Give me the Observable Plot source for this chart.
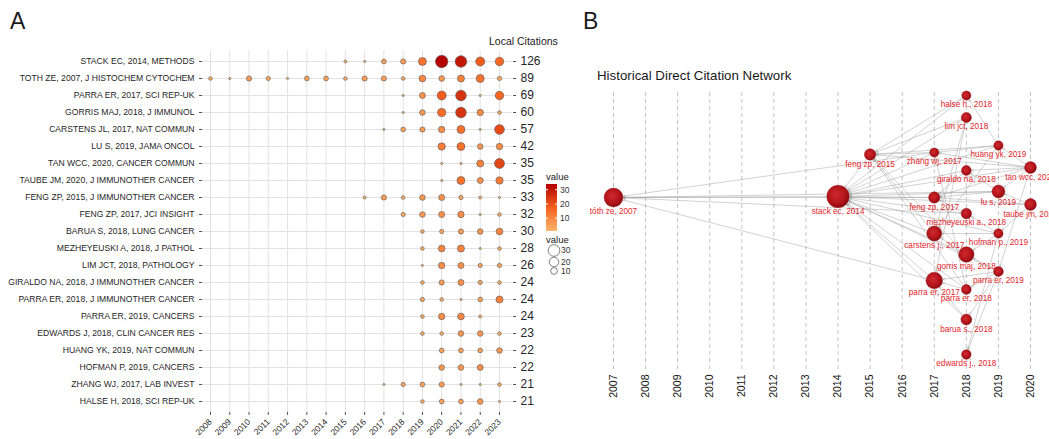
<!DOCTYPE html>
<html><head><meta charset="utf-8">
<script src="https://cdn.jsdelivr.net/npm/d3@7"></script>
<script src="https://cdn.jsdelivr.net/npm/@observablehq/plot@0.6"></script>
<style>
body{margin:0;background:#fff;font-family:"Liberation Sans",Arial,sans-serif;}
#wrap{position:relative;width:1049px;height:439px;overflow:hidden;background:#fff;}
#wrap > svg{position:absolute;top:0;}
</style></head><body><div id="wrap"></div>
<script>
// ---------- Panel A data ----------
const years = [2008,2009,2010,2011,2012,2013,2014,2015,2016,2017,2018,2019,2020,2021,2022,2023];
const refs = [
  "STACK EC, 2014, METHODS",
  "TOTH ZE, 2007, J HISTOCHEM CYTOCHEM",
  "PARRA ER, 2017, SCI REP-UK",
  "GORRIS MAJ, 2018, J IMMUNOL",
  "CARSTENS JL, 2017, NAT COMMUN",
  "LU S, 2019, JAMA ONCOL",
  "TAN WCC, 2020, CANCER COMMUN",
  "TAUBE JM, 2020, J IMMUNOTHER CANCER",
  "FENG ZP, 2015, J IMMUNOTHER CANCER",
  "FENG ZP, 2017, JCI INSIGHT",
  "BARUA S, 2018, LUNG CANCER",
  "MEZHEYEUSKI A, 2018, J PATHOL",
  "LIM JCT, 2018, PATHOLOGY",
  "GIRALDO NA, 2018, J IMMUNOTHER CANCER",
  "PARRA ER, 2018, J IMMUNOTHER CANCER",
  "PARRA ER, 2019, CANCERS",
  "EDWARDS J, 2018, CLIN CANCER RES",
  "HUANG YK, 2019, NAT COMMUN",
  "HOFMAN P, 2019, CANCERS",
  "ZHANG WJ, 2017, LAB INVEST",
  "HALSE H, 2018, SCI REP-UK"
];
const localCitations = [126,89,69,60,57,42,35,35,33,32,30,28,26,24,24,24,23,22,22,21,21];
// citations per year, aligned with `years` (0 = none)
const yearlyCounts = [
  [0,0,0,0,0,0,0,2,1,5,6,14,34,30,18,16],
  [3,1,6,4,1,5,5,3,6,6,3,10,7,11,14,4],
  [0,0,0,0,0,0,0,0,0,0,1,8,18,25,1,16],
  [0,0,0,0,0,0,0,0,0,0,1,7,15,25,9,3],
  [0,0,0,0,0,0,0,0,0,1,5,6,9,14,1,21],
  [0,0,0,0,0,0,0,0,0,0,0,0,12,14,7,9],
  [0,0,0,0,0,0,0,0,0,0,0,0,1,1,11,22],
  [0,0,0,0,0,0,0,0,0,0,0,0,1,14,8,12],
  [0,0,0,0,0,0,0,0,2,6,3,7,8,4,2,1],
  [0,0,0,0,0,0,0,0,0,0,4,7,8,9,1,3],
  [0,0,0,0,0,0,0,0,0,0,0,3,4,6,7,10],
  [0,0,0,0,0,0,0,0,0,0,0,3,10,11,1,3],
  [0,0,0,0,0,0,0,0,0,0,0,1,9,8,4,4],
  [0,0,0,0,0,0,0,0,0,0,0,3,6,8,4,3],
  [0,0,0,0,0,0,0,0,0,0,0,4,3,1,5,11],
  [0,0,0,0,0,0,0,0,0,0,0,3,9,10,2,0],
  [0,0,0,0,0,0,0,0,0,0,0,3,3,7,7,3],
  [0,0,0,0,0,0,0,0,0,0,0,0,5,5,5,7],
  [0,0,0,0,0,0,0,0,0,0,0,0,7,7,8,0],
  [0,0,0,0,0,0,0,0,0,1,4,5,6,1,1,3],
  [0,0,0,0,0,0,0,0,0,0,0,3,5,5,7,1]
];

// ---------- Panel B data ----------
const netYearTicks = [2007,2008,2009,2010,2011,2012,2013,2014,2015,2016,2017,2018,2019,2020];
const netLabels = ["tóth ze, 2007","stack ec, 2014","feng zp, 2015","zhang wj, 2017","feng zp, 2017","carstens j., 2017","parra er, 2017","halse h., 2018","lim jct, 2018","giraldo na, 2018","mezheyeuski a., 2018","gorris maj, 2018","parra er, 2018","barua s., 2018","edwards j., 2018","huang yk, 2019","lu s, 2019","hofman p., 2019","parra er, 2019","tan wcc, 2020","taube jm, 2020"];
const netYears = [2007,2014,2015,2017,2017,2017,2017,2018,2018,2018,2018,2018,2018,2018,2018,2019,2019,2019,2019,2020,2020];
const netLayoutPos = [117,116,74,72,117,153,200,15,37,90,133,174,209,239,274,65,111,153,191,87,124];
const netCitations = [89,126,33,21,32,57,69,21,26,24,28,60,24,30,23,22,42,22,24,35,35];
const edgeFrom = [
  "stack ec, 2014","zhang wj, 2017","feng zp, 2017","mezheyeuski a., 2018","parra er, 2017","lu s, 2019",
  "feng zp, 2015","zhang wj, 2017","feng zp, 2017","carstens j., 2017","parra er, 2017","halse h., 2018","lim jct, 2018","giraldo na, 2018","mezheyeuski a., 2018","gorris maj, 2018","parra er, 2018","barua s., 2018","huang yk, 2019","lu s, 2019","hofman p., 2019","parra er, 2019","tan wcc, 2020","taube jm, 2020",
  "halse h., 2018","lim jct, 2018","zhang wj, 2017","carstens j., 2017","gorris maj, 2018","huang yk, 2019","tan wcc, 2020","parra er, 2018",
  "tan wcc, 2020","giraldo na, 2018","lu s, 2019","taube jm, 2020","tan wcc, 2020","mezheyeuski a., 2018",
  "lim jct, 2018","gorris maj, 2018","hofman p., 2019","huang yk, 2019",
  "lim jct, 2018","parra er, 2018","parra er, 2019","barua s., 2018",
  "huang yk, 2019","tan wcc, 2020","tan wcc, 2020","lu s, 2019","taube jm, 2020","tan wcc, 2020","tan wcc, 2020",
  "hofman p., 2019","parra er, 2019","parra er, 2019","parra er, 2019","parra er, 2019","hofman p., 2019","taube jm, 2020","huang yk, 2019","hofman p., 2019","parra er, 2018"
];
const edgeTo = [
  "tóth ze, 2007","tóth ze, 2007","tóth ze, 2007","tóth ze, 2007","tóth ze, 2007","tóth ze, 2007",
  "stack ec, 2014","stack ec, 2014","stack ec, 2014","stack ec, 2014","stack ec, 2014","stack ec, 2014","stack ec, 2014","stack ec, 2014","stack ec, 2014","stack ec, 2014","stack ec, 2014","stack ec, 2014","stack ec, 2014","stack ec, 2014","stack ec, 2014","stack ec, 2014","stack ec, 2014","stack ec, 2014",
  "feng zp, 2015","feng zp, 2015","feng zp, 2015","feng zp, 2015","feng zp, 2015","feng zp, 2015","feng zp, 2015","feng zp, 2015",
  "zhang wj, 2017","feng zp, 2017","feng zp, 2017","feng zp, 2017","feng zp, 2017","feng zp, 2017",
  "carstens j., 2017","carstens j., 2017","carstens j., 2017","carstens j., 2017",
  "parra er, 2017","parra er, 2017","parra er, 2017","parra er, 2017",
  "halse h., 2018","huang yk, 2019","giraldo na, 2018","giraldo na, 2018","lu s, 2019","lu s, 2019","parra er, 2019",
  "gorris maj, 2018","gorris maj, 2018","parra er, 2018","barua s., 2018","edwards j., 2018","edwards j., 2018","hofman p., 2019","zhang wj, 2017","mezheyeuski a., 2018","zhang wj, 2017"
];

// ---------- build ----------
const FONT = "Liberation Sans, Arial, Helvetica, sans-serif";
const wrap = document.getElementById("wrap");

const cells = refs.flatMap((ref, i) =>
  years.map((year, j) => ({ref, year, value: yearlyCounts[i][j]})).filter(d => d.value > 0));
const totalByRef = new Map(refs.map((r, i) => [r, localCitations[i]]));

const colorOpts = {type: "linear", domain: [1, 17, 34], range: ["#fbb56c", "#f6621f", "#b30000"]};
const rOpts = {type: "sqrt", domain: [0, 34], range: [0, 6.2]};

const plotA = Plot.plot({
  width: 580, height: 439,
  marginLeft: 202, marginRight: 68, marginTop: 50, marginBottom: 27,
  style: {fontFamily: FONT, background: "transparent", color: "#262626"},
  x: {type: "linear", domain: [2008, 2023], range: [210, 499]},
  y: {type: "point", domain: refs, range: [59, 403], padding: 0},
  r: rOpts,
  color: colorOpts,
  marks: [
    Plot.ruleX(years, {x: d => d, stroke: "#e2e2e2", strokeWidth: 1}),
    Plot.ruleY(refs, {y: d => d, stroke: "#e2e2e2", strokeWidth: 1}),
    Plot.axisX({ticks: years, tickFormat: d => String(d), tickRotate: -45, tickSize: 3, tickPadding: 5, fontSize: 8.5, label: null, stroke: "#555"}),
    Plot.axisY({anchor: "left", tickSize: 3, tickPadding: 5, fontSize: 8.6, label: null, stroke: "#555"}),
    Plot.axisY({anchor: "right", tickFormat: d => totalByRef.get(d), tickSize: 3, tickPadding: 5, fontSize: 12, label: null, stroke: "#555"}),
    Plot.dot(cells, {x: "year", y: "ref", r: "value", fill: "value", stroke: "#555", strokeWidth: 0.6})
  ]
});
plotA.style.left = "0px";
wrap.appendChild(plotA);

// Panel B
const nodes = netLabels.map((label, i) => ({label, year: netYears[i], pos: netLayoutPos[i], lc: netCitations[i]}));
const nodeBy = new Map(nodes.map(n => [n.label, n]));
const edges = edgeFrom.map((f, i) => ({from: nodeBy.get(f), to: nodeBy.get(edgeTo[i])}));
const rNetOpts = {type: "sqrt", domain: [0, 126], range: [0, 11.2]};
const rNet = d3.scaleSqrt().domain(rNetOpts.domain).range(rNetOpts.range);

const arrowMarks = nodes.map(target =>
  Plot.arrow(edges.filter(e => e.to === target), {
    x1: e => e.from.year, y1: e => e.from.pos, x2: e => e.to.year, y2: e => e.to.pos,
    insetEnd: rNet(target.lc) + 0.5, stroke: "#9a9a9a", strokeWidth: 0.6, strokeOpacity: 0.75,
    headLength: 5, bend: false
  }));

const plotB = Plot.plot({
  width: 469, height: 439,
  marginTop: 92, marginBottom: 69, marginLeft: 0, marginRight: 0,
  style: {fontFamily: FONT, background: "transparent", color: "#111", overflow: "hidden"},
  x: {type: "linear", domain: [2007, 2020], range: [33, 450]},
  y: {type: "linear", domain: [0, 300], range: [80, 380], axis: null},
  r: rNetOpts,
  marks: [
    Plot.ruleX(netYearTicks, {x: d => d, stroke: "#c4c4c4", strokeWidth: 1, strokeDasharray: "4,3"}),
    Plot.axisX({ticks: netYearTicks, tickFormat: d => String(d), tickRotate: -90, tickSize: 0, tickPadding: 4, fontSize: 10.5, label: null}),
    ...arrowMarks,
    Plot.dot(nodes, {x: "year", y: "pos", r: "lc", fill: "url(#nodeGrad)", stroke: "#8c0b10", strokeWidth: 0.4}),
    Plot.text(nodes, {x: "year", y: d => d.pos + rNet(d.lc) + 4, text: "label", fill: "#e4262c", fontSize: 8.2, lineAnchor: "middle"})
  ]
});
plotB.style.left = "580px";
{
  const defs = d3.select(plotB).insert("defs", ":first-child");
  const g = defs.append("radialGradient").attr("id", "nodeGrad").attr("cx", "42%").attr("cy", "42%").attr("r", "60%");
  g.append("stop").attr("offset", "0%").attr("stop-color", "#cf2a2e");
  g.append("stop").attr("offset", "65%").attr("stop-color", "#b3141b");
  g.append("stop").attr("offset", "100%").attr("stop-color", "#8a0a0f");
}
wrap.appendChild(plotB);

// Overlay: panel letters, titles, legends
const colorScale = Plot.scale({color: colorOpts});
const rScale = Plot.scale({r: rOpts});
const ov = d3.create("svg").attr("width", 1049).attr("height", 439)
  .style("left", "0px").style("font-family", FONT).style("pointer-events", "none");
ov.append("text").attr("x", 10).attr("y", 29).attr("font-size", 23).attr("fill", "#1a1a1a").text("A");
ov.append("text").attr("x", 583).attr("y", 29).attr("font-size", 23).attr("fill", "#1a1a1a").text("B");
ov.append("text").attr("x", 597).attr("y", 80).attr("font-size", 13.3).attr("fill", "#1a1a1a").text("Historical Direct Citation Network");
ov.append("text").attr("x", 489).attr("y", 44.5).attr("font-size", 10.5).attr("fill", "#1a1a1a").text("Local Citations");

// color legend
ov.append("text").attr("x", 546).attr("y", 180).attr("font-size", 9.5).attr("fill", "#1a1a1a").text("value");
const lg = ov.append("defs").append("linearGradient").attr("id", "barGrad").attr("x1", 0).attr("y1", 1).attr("x2", 0).attr("y2", 0);
d3.range(0, 1.0001, 0.05).forEach(t => {
  lg.append("stop").attr("offset", t).attr("stop-color", colorScale.apply(1 + t * 33));
});
const barTop = 184, barBot = 231;
ov.append("rect").attr("x", 546).attr("y", barTop).attr("width", 11).attr("height", barBot - barTop).attr("fill", "url(#barGrad)");
const barY = v => barBot - (v - 1) / 33 * (barBot - barTop);
[10, 20, 30].forEach(v => {
  ov.append("text").attr("x", 560).attr("y", barY(v)).attr("dy", "0.35em").attr("font-size", 8.5).attr("fill", "#333").text(v);
  ov.append("line").attr("x1", 546).attr("x2", 548).attr("y1", barY(v)).attr("y2", barY(v)).attr("stroke", "#fff");
  ov.append("line").attr("x1", 555).attr("x2", 557).attr("y1", barY(v)).attr("y2", barY(v)).attr("stroke", "#fff");
});
// size legend
ov.append("text").attr("x", 546).attr("y", 243).attr("font-size", 9.5).attr("fill", "#1a1a1a").text("value");
[[30, 250.5], [20, 262], [10, 271]].forEach(([v, cy]) => {
  ov.append("circle").attr("cx", 554).attr("cy", cy).attr("r", rScale.apply(v)).attr("fill", "#fff").attr("stroke", "#333").attr("stroke-width", 0.6);
  ov.append("text").attr("x", 561).attr("y", cy).attr("dy", "0.35em").attr("font-size", 8.5).attr("fill", "#333").text(v);
});
wrap.appendChild(ov.node());
</script>
</body></html>
